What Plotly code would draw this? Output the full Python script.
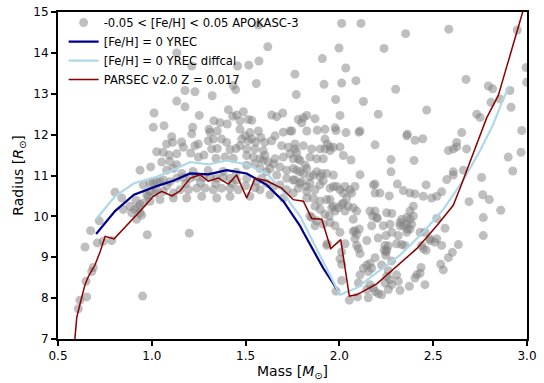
import plotly.graph_objects as go

# ---------------- data ----------------
apokasc_points = [
    # radius > 12.7
    (1.568, 14.68), (2.012, 14.72), (2.115, 14.72), (1.618, 14.15), (1.998, 14.12),
    (1.909, 13.86), (2.034, 13.63), (1.571, 13.80), (1.517, 13.70), (1.457, 13.68),
    (1.213, 13.68), (1.133, 14.00), (1.763, 13.48), (1.177, 13.08), (1.230, 13.05),
    (1.322, 12.95), (1.434, 13.20), (1.447, 13.10), (1.557, 13.25), (1.770, 12.98),
    (1.918, 13.23), (2.012, 13.26), (2.088, 13.32), (1.980, 12.86), (2.128, 12.81),
    (2.353, 14.47), (2.583, 14.58), (2.238, 14.11), (2.675, 13.35), (2.300, 13.11),
    (2.948, 14.56), (2.995, 13.64), (2.998, 13.28), (2.794, 13.19), (2.817, 13.12),
    (2.909, 13.08), (2.808, 12.79), (2.856, 12.87), (2.915, 12.67), (1.133, 12.82),
    (1.177, 12.68),
    # 12.0 - 12.7
    (2.207, 12.50), (2.465, 12.60), (2.110, 12.09), (2.362, 12.01), (2.652, 12.05),
    (2.732, 12.50), (2.750, 12.42), (2.972, 12.10), (1.012, 12.53), (1.008, 12.18),
    (1.065, 12.22), (1.218, 12.18), (1.213, 12.02), (1.253, 12.47), (1.305, 12.13),
    (1.408, 12.61), (1.431, 12.45), (1.452, 12.48), (1.488, 12.56), (1.331, 12.34),
    (1.364, 12.29), (1.402, 12.26), (1.470, 12.34), (1.514, 12.37), (1.533, 12.35),
    (1.310, 12.06), (1.349, 12.09), (1.470, 12.13), (1.523, 12.05), (1.568, 12.09),
    (1.639, 12.48), (1.666, 12.44), (1.698, 12.53), (1.781, 12.37), (1.808, 12.41),
    (1.826, 12.47), (1.870, 12.39), (1.799, 12.29), (1.746, 12.09), (1.701, 12.06),
    (1.737, 12.09), (1.826, 12.09), (1.882, 12.11), (1.923, 12.13), (1.977, 12.17),
    (1.982, 12.10), (2.035, 12.05), (2.104, 12.06), (2.003, 12.47),
    # 11.5 - 12.0
    (1.497, 11.97), (1.581, 11.93), (1.657, 11.97), (2.359, 11.97), (2.403, 11.86),
    (2.444, 11.90), (2.190, 11.75), (1.923, 11.89), (1.763, 11.77), (1.950, 11.70),
    (2.003, 11.70), (2.625, 11.81), (2.625, 11.70), (2.581, 11.61), (2.607, 11.65),
    (2.678, 11.65), (2.968, 11.57), (1.106, 11.95), (1.111, 11.81), (1.159, 11.82),
    (1.168, 11.69), (1.230, 11.73), (1.248, 11.77), (1.301, 11.85), (1.328, 11.89),
    (1.372, 11.89), (1.399, 11.81), (1.319, 11.65), (1.349, 11.66), (1.417, 11.63),
    (1.449, 11.66), (1.079, 11.77), (1.026, 11.58), (1.061, 11.57), (1.093, 11.50),
    (1.133, 11.53), (1.207, 11.55), (1.479, 11.89), (1.532, 11.90), (1.514, 11.85),
    (1.555, 11.82), (1.603, 11.81), (1.639, 11.85), (1.506, 11.65), (1.550, 11.65),
    (1.594, 11.61), (1.692, 11.73), (1.728, 11.69), (1.763, 11.65), (1.808, 11.73),
    (1.852, 11.65), (1.897, 11.65), (1.935, 11.77), (1.968, 11.69), (1.470, 11.73),
    (1.772, 11.57), (1.737, 11.53), (1.923, 11.65), (1.950, 11.61),
    # 11.0 - 11.5
    (1.248, 11.45), (1.278, 11.50), (1.342, 11.42), (1.390, 11.45), (1.434, 11.42),
    (1.053, 11.33), (1.097, 11.34), (1.133, 11.26), (0.937, 11.13), (0.994, 11.21),
    (1.079, 11.13), (1.115, 11.17), (1.657, 11.41), (1.701, 11.45), (1.781, 11.41),
    (1.843, 11.45), (1.879, 11.41), (1.914, 11.41), (1.594, 11.37), (1.621, 11.33),
    (1.630, 11.17), (1.683, 11.21), (1.719, 11.13), (1.754, 11.17), (1.790, 11.09),
    (1.826, 11.17), (1.861, 11.01), (1.897, 10.97), (1.932, 11.05), (1.968, 11.01),
    (1.577, 11.17), (1.612, 11.09), (1.506, 11.49), (1.541, 11.45), (1.577, 11.41),
    (1.506, 11.25), (1.550, 11.29), (1.603, 11.49), (1.648, 11.29), (1.666, 11.01),
    (2.021, 11.49), (2.062, 11.38), (2.275, 11.39), (2.398, 11.37), (2.110, 11.02),
    (2.275, 11.09), (2.900, 11.45), (2.924, 11.11), (2.607, 11.09), (2.607, 11.01),
    (2.661, 11.13), (1.817, 11.25), (1.790, 11.37), (1.754, 11.41), (1.772, 11.13),
    (1.808, 11.05), (1.843, 10.97), (1.879, 11.09), (1.906, 11.05), (1.160, 11.05),
    (1.220, 11.10), (1.300, 11.12), (1.380, 11.10), (1.450, 11.08),
    # 10.5 - 11.0
    (0.955, 10.77), (0.990, 10.81), (1.026, 10.85), (1.061, 10.89), (1.097, 10.85),
    (1.133, 10.93), (1.168, 10.95), (1.204, 10.93), (1.239, 10.97), (1.275, 10.95),
    (1.310, 10.97), (1.346, 10.93), (1.381, 10.95), (1.417, 10.93), (1.452, 10.89),
    (0.973, 10.53), (1.017, 10.57), (1.061, 10.61), (1.115, 10.57), (1.150, 10.65),
    (1.195, 10.65), (1.239, 10.69), (1.284, 10.69), (1.328, 10.65), (1.372, 10.69),
    (1.417, 10.69), (1.461, 10.65), (1.586, 10.93), (1.506, 10.93), (1.559, 10.85),
    (1.612, 10.81), (1.648, 10.73), (1.577, 10.65), (1.630, 10.53), (1.683, 10.77),
    (1.719, 10.65), (1.754, 10.57), (1.719, 10.93), (1.763, 10.89), (1.799, 10.85),
    (1.843, 10.81), (1.897, 10.77), (1.950, 10.69), (1.986, 10.73), (1.781, 10.69),
    (1.826, 10.61), (1.870, 10.65), (1.754, 10.89), (1.790, 10.81), (1.826, 10.73),
    (1.914, 10.87), (1.968, 10.73), (2.003, 10.65), (2.021, 10.57), (2.056, 10.65),
    (2.065, 10.57), (2.030, 10.73), (2.083, 10.73), (2.181, 10.77), (2.190, 10.79),
    (2.190, 10.57), (2.216, 10.57), (2.309, 10.79), (2.341, 10.63), (2.376, 10.57),
    (2.403, 10.55), (2.462, 10.77), (2.447, 10.49), (2.492, 10.45), (2.519, 10.49),
    (2.545, 10.60), (2.572, 10.90), (2.758, 10.95), (2.764, 10.53), (1.008, 10.82),
    (1.044, 10.85), (0.840, 10.45), (0.804, 10.59), (0.990, 10.61), (1.026, 10.65),
    (1.523, 10.49), (1.701, 10.45), (1.080, 10.75), (1.180, 10.80), (1.260, 10.82),
    (1.340, 10.80), (1.430, 10.80), (1.500, 10.75), (1.550, 10.70),
    # 10.0 - 10.5
    (0.937, 10.29), (0.990, 10.37), (1.044, 10.41), (1.115, 10.45), (1.186, 10.45),
    (1.266, 10.49), (1.346, 10.45), (1.417, 10.49), (0.910, 10.17), (0.937, 10.09),
    (0.848, 10.17), (0.893, 10.09), (0.916, 10.39), (0.884, 10.25), (0.928, 10.21),
    (0.955, 10.33), (0.981, 10.49), (0.946, 10.03), (1.826, 10.45), (1.861, 10.45),
    (1.897, 10.37), (1.932, 10.41), (1.959, 10.21), (1.977, 10.13), (1.870, 10.25),
    (1.897, 10.17), (1.923, 10.05), (1.946, 10.01), (1.950, 10.41), (1.968, 10.25),
    (1.994, 10.21), (2.021, 10.33), (2.039, 10.45), (2.012, 10.29), (2.047, 10.25),
    (2.030, 10.13), (2.074, 10.21), (2.092, 10.13), (2.163, 10.13), (2.190, 10.13),
    (2.177, 10.01), (2.199, 9.97), (2.252, 10.09), (2.279, 10.07), (2.359, 9.97),
    (2.394, 10.01), (2.394, 10.25), (2.376, 10.13), (2.266, 10.50), (2.799, 10.41),
    (2.691, 10.36), (2.860, 10.15), (1.843, 10.01), (1.852, 9.97),
    # 9.5 - 10.0
    (0.720, 9.89), (0.674, 9.65), (0.976, 9.55), (1.200, 9.59), (0.919, 9.93),
    (1.870, 9.77), (1.879, 9.89), (1.914, 9.81), (1.950, 9.85), (1.977, 9.77),
    (2.003, 9.61), (2.074, 9.63), (2.106, 9.69), (2.074, 9.93), (2.083, 9.65),
    (2.092, 9.57), (2.172, 9.77), (2.202, 9.95), (2.234, 9.77), (2.270, 9.81),
    (2.323, 9.85), (2.323, 9.77), (2.341, 9.77), (2.376, 9.69), (2.385, 9.81),
    (2.376, 9.93), (2.333, 9.93), (2.359, 9.81), (2.359, 9.61), (2.362, 9.69),
    (2.314, 9.53), (2.279, 9.61), (2.248, 9.53), (2.430, 9.61), (2.456, 9.61),
    (2.519, 9.95), (2.563, 9.71), (2.767, 9.97), (2.767, 9.53), (2.083, 9.45),
    (2.146, 9.41), (2.207, 9.47), (2.483, 9.45), (2.519, 9.45),
    # 9.0 - 9.5
    (0.644, 9.25), (0.710, 9.35), (0.741, 9.39), (0.786, 9.41), (1.932, 9.29),
    (1.936, 9.33), (2.030, 9.33), (2.012, 9.13), (2.092, 9.29), (2.101, 9.21),
    (2.110, 9.09), (2.243, 9.29), (2.252, 9.17), (2.248, 9.13), (2.261, 9.28),
    (2.239, 9.17), (2.247, 9.05), (2.305, 9.33), (2.332, 9.31), (2.349, 9.29),
    (2.447, 9.21), (2.462, 9.17), (2.438, 9.29), (2.483, 9.41), (2.509, 9.37),
    (2.545, 9.29), (2.634, 9.31), (2.602, 9.12),
    # 8.5 - 9.0
    (0.680, 8.65), (0.688, 8.75), (2.003, 8.96), (2.012, 8.83), (2.128, 8.73),
    (2.146, 8.81), (2.163, 8.85), (2.172, 8.73), (2.154, 8.65), (2.190, 8.99),
    (2.225, 8.81), (2.261, 8.67), (2.252, 8.53), (2.279, 8.91), (2.305, 8.57),
    (2.110, 8.57), (2.412, 8.57), (2.430, 8.61), (2.435, 8.75), (2.581, 8.99),
    (2.540, 8.83), (2.554, 8.69),
    # below 8.5
    (0.617, 7.95), (0.608, 7.74), (0.653, 8.03), (0.649, 8.41), (0.951, 8.05),
    (2.012, 8.43), (1.982, 8.17), (2.101, 8.37), (2.163, 8.33), (2.181, 8.25),
    (2.190, 8.16), (2.207, 8.11), (2.225, 8.08), (2.146, 8.21), (2.261, 8.21),
    (2.323, 8.19), (2.373, 8.29), (2.403, 8.49), (2.456, 8.33), (2.270, 8.45),
    (2.243, 8.37), (2.279, 8.33), (2.314, 8.41), (2.053, 7.95), (2.096, 8.03),
    (2.154, 8.01),
]
apokasc_mass = [p[0] for p in apokasc_points]
apokasc_radius = [p[1] for p in apokasc_points]

yrec_mass = [0.703, 0.804, 0.905, 1.026, 1.115, 1.204, 1.301, 1.399, 1.506, 1.612,
             1.701, 1.737, 1.790, 1.808, 1.914, 1.994]
yrec_radius = [9.57, 10.13, 10.53, 10.74, 10.87, 11.05, 11.03, 11.13, 11.05, 10.77,
               10.37, 10.13, 9.77, 9.61, 8.73, 8.17]

diffcal_mass = [0.703, 0.804, 0.905, 1.026, 1.115, 1.204, 1.301, 1.399, 1.506, 1.612,
                1.701, 1.737, 1.790, 1.808, 1.914, 2.003, 2.092, 2.199, 2.323, 2.447,
                2.554, 2.661, 2.750, 2.820, 2.874, 2.907]
diffcal_radius = [9.93, 10.49, 10.81, 10.97, 11.14, 11.33, 11.27, 11.37, 11.27, 11.05,
                  10.61, 10.33, 10.01, 9.85, 8.89, 8.08, 8.25, 8.61, 9.05, 9.61,
                  10.17, 10.89, 11.61, 12.25, 12.88, 13.19]

parsec_mass = [0.589, 0.600, 0.617, 0.644, 0.662, 0.697, 0.724, 0.751, 0.799, 0.866,
               0.946, 1.008, 1.053, 1.106, 1.150, 1.204, 1.257, 1.301, 1.354, 1.408,
               1.452, 1.506, 1.550, 1.612, 1.692, 1.754, 1.808, 1.852, 1.906, 1.954,
               2.007, 2.053, 2.092, 2.199, 2.305, 2.412, 2.519, 2.607, 2.643, 2.714,
               2.785, 2.847, 2.977]
parsec_radius = [6.95, 7.53, 7.85, 8.33, 8.53, 8.81, 9.13, 9.51, 9.45, 9.77,
                 10.17, 10.49, 10.61, 10.50, 10.62, 10.93, 11.02, 10.86, 10.94, 10.79,
                 11.01, 10.45, 10.93, 10.87, 10.69, 10.41, 10.37, 9.95, 9.93, 9.21,
                 9.43, 8.05, 8.08, 8.35, 8.77, 9.21, 9.77, 10.27, 10.69, 11.53,
                 12.41, 12.96, 15.0]

x_ticks = [0.5, 1.0, 1.5, 2.0, 2.5, 3.0]
y_ticks = [7, 8, 9, 10, 11, 12, 13, 14, 15]

# ---------------- figure ----------------
FONT = "DejaVu Sans"
fig = go.Figure()

fig.add_trace(go.Scatter(
    x=apokasc_mass, y=apokasc_radius, mode="markers",
    name="-0.05 < [Fe/H] < 0.05 APOKASC-3",
    marker=dict(size=9, color="rgba(128,128,128,0.5)", line=dict(width=0)),
))
fig.add_trace(go.Scatter(
    x=yrec_mass, y=yrec_radius, mode="lines", name="[Fe/H] = 0 YREC",
    line=dict(color="#00008B", width=2.2),
))
fig.add_trace(go.Scatter(
    x=diffcal_mass, y=diffcal_radius, mode="lines", name="[Fe/H] = 0 YREC diffcal",
    line=dict(color="#ADD8E6", width=2.2),
))
fig.add_trace(go.Scatter(
    x=parsec_mass, y=parsec_radius, mode="lines", name="PARSEC v2.0 Z = 0.017",
    line=dict(color="#8B0000", width=1.5),
))

axis_common = dict(
    showline=True, linecolor="black", linewidth=2, mirror=True,
    ticks="outside", ticklen=5, tickwidth=1.5, tickcolor="black",
    showgrid=False, zeroline=False,
    tickfont=dict(family=FONT, size=12, color="black"),
)

fig.update_xaxes(
    range=[0.5, 3.0], tickvals=x_ticks, ticktext=[f"{v:.1f}" for v in x_ticks],
    title=dict(text="Mass [<i>M</i><sub>⊙</sub>]", font=dict(family=FONT, size=14, color="black"),
               standoff=4),
    **axis_common,
)
fig.update_yaxes(
    range=[7, 15], tickvals=y_ticks, ticktext=[str(v) for v in y_ticks],
    title=dict(text="Radius [<i>R</i><sub>⊙</sub>]", font=dict(family=FONT, size=14, color="black"),
               standoff=6),
    **axis_common,
)

fig.update_layout(
    width=544, height=383,
    margin=dict(l=58, r=17, t=5, b=44),
    paper_bgcolor="white", plot_bgcolor="white",
    font=dict(family=FONT, size=12, color="black"),
    showlegend=True,
    legend=dict(
        x=0.012, y=1.012, xanchor="left", yanchor="top",
        bgcolor="rgba(0,0,0,0)", borderwidth=0,
        font=dict(family=FONT, size=11.6, color="black"),
        itemwidth=30, tracegroupgap=0,
    ),
)

fig.write_html("out.html")
